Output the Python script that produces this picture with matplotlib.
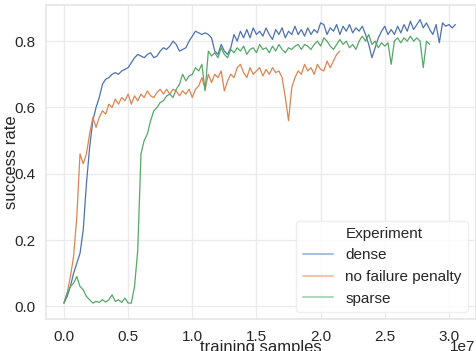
import numpy as np
import matplotlib
matplotlib.use("Agg")
import matplotlib.pyplot as plt
from matplotlib.lines import Line2D
import seaborn as sns

# sample spacing of the logged points (training samples)
step = 0.025e7

dense = [
    0.01, 0.03, 0.06, 0.10, 0.13, 0.16, 0.23, 0.37, 0.48, 0.56,
    0.60, 0.63, 0.67, 0.685, 0.69, 0.70, 0.705, 0.70, 0.71, 0.715,
    0.72, 0.735, 0.75, 0.76, 0.755, 0.75, 0.76, 0.765, 0.75, 0.755,
    0.77, 0.78, 0.775, 0.785, 0.80, 0.79, 0.77, 0.775, 0.78, 0.80,
    0.815, 0.83, 0.825, 0.82, 0.825, 0.82, 0.81, 0.77, 0.76, 0.79,
    0.77, 0.76, 0.78, 0.82, 0.80, 0.83, 0.81, 0.835, 0.81, 0.84,
    0.82, 0.83, 0.815, 0.84, 0.82, 0.805, 0.835, 0.82, 0.84, 0.81,
    0.83, 0.82, 0.845, 0.82, 0.835, 0.815, 0.84, 0.82, 0.835, 0.825,
    0.855, 0.85, 0.82, 0.84, 0.83, 0.85, 0.82, 0.845, 0.83, 0.85,
    0.825, 0.84, 0.83, 0.845, 0.82, 0.79, 0.75, 0.78, 0.81, 0.83,
    0.845, 0.82, 0.835, 0.82, 0.845, 0.825, 0.85, 0.83, 0.86, 0.835,
    0.85, 0.865, 0.84, 0.855, 0.835, 0.82, 0.85, 0.795, 0.855, 0.845,
    0.85, 0.84, 0.85,
]

no_failure_penalty = [
    0.01, 0.04, 0.09, 0.15, 0.27, 0.46, 0.43, 0.46, 0.52, 0.57,
    0.54, 0.57, 0.59, 0.58, 0.61, 0.60, 0.625, 0.61, 0.63, 0.62,
    0.64, 0.61, 0.635, 0.62, 0.64, 0.63, 0.65, 0.635, 0.63, 0.645,
    0.655, 0.64, 0.655, 0.64, 0.655, 0.65, 0.635, 0.65, 0.64, 0.655,
    0.63, 0.655, 0.665, 0.69, 0.655, 0.70, 0.675, 0.70, 0.69, 0.71,
    0.65, 0.68, 0.70, 0.69, 0.72, 0.73, 0.705, 0.69, 0.72, 0.70,
    0.71, 0.72, 0.695, 0.715, 0.70, 0.72, 0.705, 0.71, 0.69, 0.63,
    0.56, 0.66, 0.69, 0.71, 0.70, 0.73, 0.71, 0.72, 0.70, 0.73,
    0.715, 0.71, 0.74, 0.72, 0.74, 0.76, 0.77,
]

sparse = [
    0.01, 0.04, 0.06, 0.07, 0.09, 0.06, 0.05, 0.03, 0.02, 0.01,
    0.015, 0.012, 0.02, 0.013, 0.02, 0.035, 0.015, 0.02, 0.012, 0.025,
    0.01, 0.01, 0.06, 0.17, 0.46, 0.50, 0.52, 0.56, 0.59, 0.60,
    0.615, 0.62, 0.635, 0.64, 0.63, 0.655, 0.67, 0.70, 0.68, 0.695,
    0.70, 0.72, 0.71, 0.73, 0.65, 0.77, 0.755, 0.765, 0.75, 0.78,
    0.76, 0.75, 0.775, 0.765, 0.78, 0.77, 0.785, 0.76, 0.775, 0.78,
    0.765, 0.79, 0.775, 0.78, 0.765, 0.785, 0.77, 0.79, 0.775, 0.765,
    0.78, 0.775, 0.785, 0.79, 0.775, 0.79, 0.785, 0.775, 0.79, 0.80,
    0.785, 0.81, 0.80, 0.785, 0.775, 0.79, 0.805, 0.79, 0.80, 0.78,
    0.79, 0.775, 0.80, 0.815, 0.80, 0.82, 0.79, 0.80, 0.78, 0.795,
    0.785, 0.795, 0.73, 0.80, 0.81, 0.795, 0.81, 0.80, 0.815, 0.80,
    0.81, 0.80, 0.72, 0.80, 0.79,
]

experiments = ["dense", "no failure penalty", "sparse"]
series = [dense, no_failure_penalty, sparse]

sns.set_theme(style="whitegrid", context="notebook",
              rc={"grid.color": "0.92", "axes.edgecolor": "0.9"})
plt.rcParams["font.family"] = ["Liberation Sans", "DejaVu Sans"]

colors = sns.color_palette("deep", 3)

fig = plt.figure(figsize=(4.76, 3.51), dpi=100)
ax = fig.add_axes([46 / 476, (351 - 319.3) / 351, (475.5 - 46) / 476, (319.3 - 5) / 351])

for name, ys, c in zip(experiments, series, colors):
    xs = np.arange(len(ys)) * step
    ax.plot(xs, ys, color=c, lw=0.9, label=name)

ax.set_xlim(-0.14e7, 3.207e7)
ax.set_ylim(-0.039, 0.909)
ax.set_xticks([0, 0.5e7, 1.0e7, 1.5e7, 2.0e7, 2.5e7, 3.0e7])
ax.set_yticks([0.0, 0.2, 0.4, 0.6, 0.8])
ax.tick_params(axis="x", labelsize=11, pad=1.5)
ax.tick_params(axis="y", labelsize=11, pad=1.5)
ax.set_xlabel("training samples", fontsize=12, labelpad=-2.5)
ax.set_ylabel("success rate", fontsize=12, labelpad=-3.0)
ax.xaxis.OFFSETTEXTPAD = -3

handles = [Line2D([], [], color="none")]
labels = ["Experiment"]
for name, c in zip(experiments, colors):
    handles.append(Line2D([], [], color=c, lw=1.5, alpha=0.45))
    labels.append(name)
leg = ax.legend(handles, labels, loc="lower right", fontsize=11)
leg.get_frame().set_edgecolor("0.92")

fig.savefig("out.png", dpi=100)
